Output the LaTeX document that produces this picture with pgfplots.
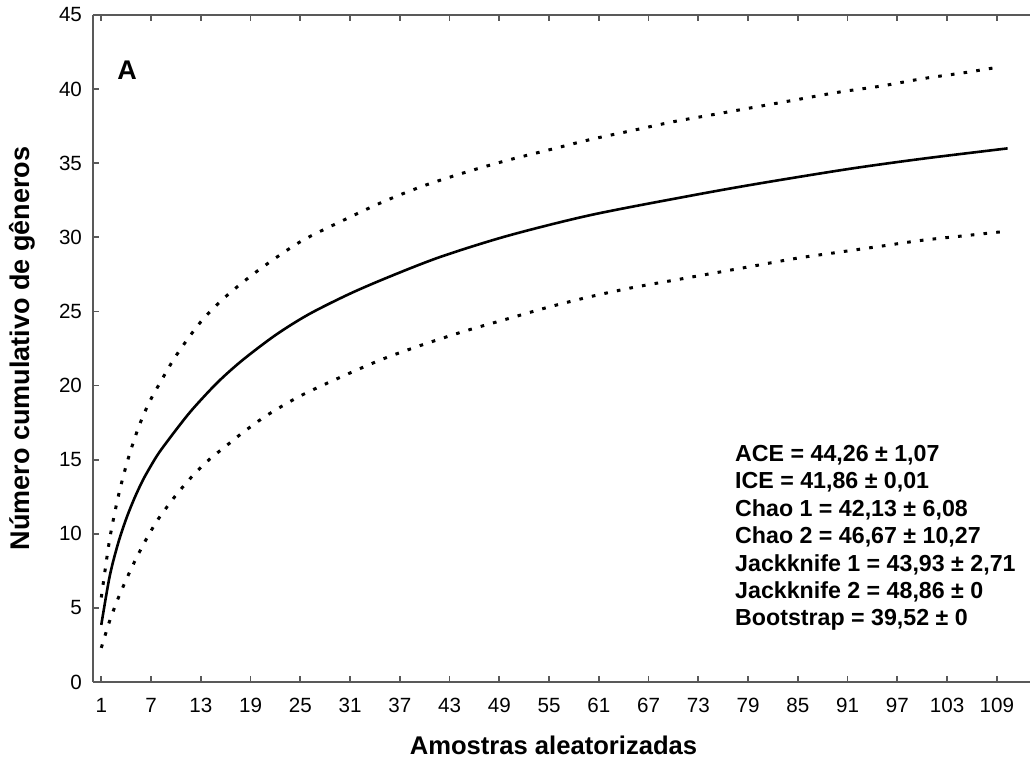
\documentclass[border=0pt]{standalone}
\usepackage{fontspec}
\setmainfont{Liberation Sans}
\usepackage{pgfplots}
\pgfplotsset{compat=1.18}

% curva de rarefacao e intervalos de confianca
\pgfplotstableread{
x y
1 3.85
2 7.1
3 9.3
4 11.0
5 12.4
6 13.6
7 14.6
8 15.5
10 17.0
12 18.4
15 20.2
18 21.7
22 23.4
26 24.8
31 26.2
36 27.4
42 28.7
50 30.1
60 31.5
72 32.8
80 33.6
91 34.6
100 35.3
110.3 36.0
}\media

\pgfplotstableread{
x y
1 5.7
2 9.6
3 12.4
4 14.6
5 16.4
6 17.9
7 19.1
8 20.1
10 22.0
13 24.3
16 26.0
20 27.8
25 29.7
30 31.1
35 32.4
40 33.5
45 34.4
50 35.2
55 35.9
60 36.6
65 37.2
70 37.8
75 38.3
80 38.8
85 39.3
90 39.8
95 40.2
100 40.7
105 41.1
109.4 41.5
}\superior

\pgfplotstableread{
x y
1 2.3
2 4.1
3 5.6
4 6.9
5 8.1
6 9.2
7 10.2
8 11.1
10 12.6
12 13.9
14 15.0
16 15.9
18 16.8
21 18.0
25 19.3
30 20.6
35 21.8
40 22.8
45 23.7
50 24.5
55 25.3
60 26.0
65 26.6
70 27.1
75 27.6
80 28.1
85 28.6
90 29.0
95 29.4
100 29.8
105 30.1
110 30.4
}\inferior

\begin{document}
\begin{tikzpicture}
\begin{axis}[
  scale only axis, width=468.5pt, height=333.5pt,
  xmin=0, xmax=113, ymin=0, ymax=45,
  enlargelimits=false,
  every non boxed y axis/.style={},
  axis x line=box, axis y line=left,
  axis line style={-, line width=0.9pt, black!65},
  y axis line style={-},
  xtick={1,7,...,109}, ytick={0,5,...,45},
  tick align=inside,
  major tick style={line width=0.9pt, black!65},
  major tick length=3pt,
  tick label style={font=\fontsize{10.3}{11}\selectfont},
  /pgf/number format/assume math mode=true,
  xticklabel shift=4.5pt,
  yticklabel shift=2pt,
  clip=false,
]
\addplot[black, line width=1.3pt, smooth] table {\media};
\addplot[black, line width=1.5pt, smooth, dash pattern=on 1.8pt off 4.6pt] table {\superior};
\addplot[black, line width=1.5pt, smooth, dash pattern=on 1.8pt off 4.6pt] table {\inferior};

\node[font=\bfseries\fontsize{13.5}{15}\selectfont] at (axis cs:4.13,41.3) {A};
\node[anchor=north west, align=left, inner sep=0pt,
      font=\bfseries\fontsize{11.6}{13.7}\selectfont] at (axis cs:77.4,16.0)
  {ACE = 44,26 ± 1,07\\
   ICE = 41,86 ± 0,01\\
   Chao 1 = 42,13 ± 6,08\\
   Chao 2 = 46,67 ± 10,27\\
   Jackknife 1 = 43,93 ± 2,71\\
   Jackknife 2 = 48,86 ± 0\\
   Bootstrap = 39,52 ± 0};
\end{axis}
\node[rotate=90, font=\bfseries\fontsize{13.5}{15}\selectfont]
  at ([xshift=-35.5pt]current axis.west) {Número cumulativo de gêneros};
\node[font=\bfseries\fontsize{12.8}{15}\selectfont]
  at ([xshift=-4pt,yshift=-31.5pt]current axis.south) {Amostras aleatorizadas};
\pgfresetboundingbox
\path[use as bounding box] ([xshift=-46.5pt,yshift=-40pt]current axis.south west)
  rectangle ([yshift=7.5pt]current axis.north east);
\end{tikzpicture}
\end{document}
